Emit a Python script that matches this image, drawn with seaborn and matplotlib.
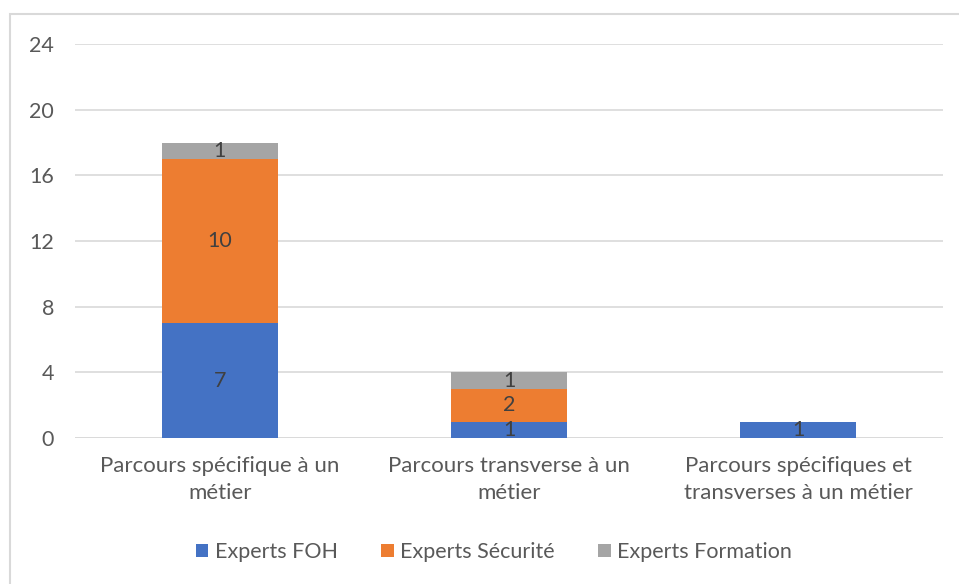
import numpy as np
import pandas as pd
import matplotlib
matplotlib.use("Agg")
import matplotlib.pyplot as plt
import seaborn as sns
from matplotlib.patches import Rectangle

categories = ["Parcours spécifique à un\nmétier",
              "Parcours transverse à un\nmétier",
              "Parcours spécifiques et\ntransverses à un métier"]
series = ["Experts FOH", "Experts Sécurité", "Experts Formation"]
foh = [7, 1, 1]
securite = [10, 2, 0]
formation = [1, 1, 0]
colors = ["#4472C4", "#ED7D31", "#A5A5A5"]
yticks = [0, 4, 8, 12, 16, 20, 24]

sns.set_style("white")
plt.rcParams['font.family'] = ['Lato', 'DejaVu Sans']

values = np.array([foh, securite, formation])
cum = values.cumsum(axis=0)

fig = plt.figure(figsize=(9.59, 5.84), dpi=100)
fig.patches.append(Rectangle((10 / 959, -0.1), 1.2, 1 - 14 / 584 + 0.1,
                             transform=fig.transFigure, fill=False,
                             edgecolor="#D9D9D9", linewidth=1.5))
ax = fig.add_axes([75 / 959, 1 - 438 / 584, (943 - 75) / 959, (438 - 44) / 584])

# draw tallest stack first so the lower segments sit on top
for i in reversed(range(len(series))):
    df = pd.DataFrame({"cat": categories, "val": cum[i]})
    sns.barplot(data=df, x="cat", y="val", color=colors[i], width=0.4,
                saturation=1, ax=ax, label=series[i], zorder=2, linewidth=0)

for j in range(len(categories)):
    for i in range(len(series)):
        if values[i][j] > 0:
            ymid = cum[i][j] - values[i][j] / 2
            ax.text(j, ymid, str(values[i][j]), ha="center", va="center",
                    fontsize=15.5, color="#404040", zorder=5)

ax.set_ylim(0, 24)
ax.set_xlim(-0.5, 2.5)
ax.set_yticks(yticks)
ax.yaxis.grid(True, color="#D9D9D9", linewidth=1.2, zorder=0)
ax.set_axisbelow(True)
for s in ax.spines.values():
    s.set_visible(False)
ax.axhline(0, color="#D9D9D9", linewidth=1.2, zorder=1)
ax.tick_params(axis="both", length=0, labelsize=15.5, colors="#595959")
ax.tick_params(axis="x", labelsize=16)
ax.tick_params(axis="y", pad=15)
ax.tick_params(axis="x", pad=13)
for t in ax.get_xticklabels():
    t.set_linespacing(1.45)
ax.set_xlabel("")
ax.set_ylabel("")

handles, labels = ax.get_legend_handles_labels()
order = [labels.index(s) for s in series]
ax.legend([handles[k] for k in order], [labels[k] for k in order],
          loc="center", bbox_to_anchor=(0.515, (584 - 552) / 584),
          bbox_transform=fig.transFigure, ncol=3, frameon=False,
          fontsize=15.5, labelcolor="#595959", handlelength=0.6,
          handleheight=0.6, handletextpad=0.3, columnspacing=2.0)

fig.savefig("out.png", dpi=100)
